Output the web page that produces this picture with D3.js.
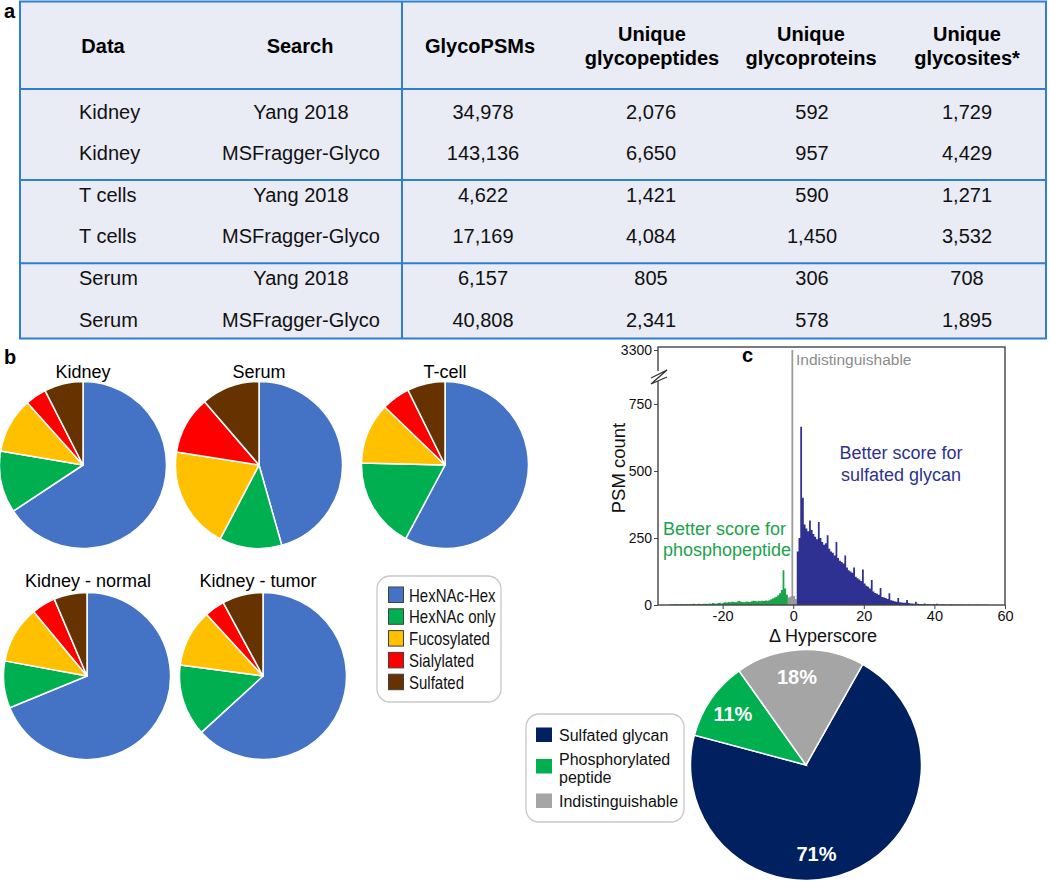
<!DOCTYPE html>
<html><head><meta charset="utf-8">
<script src="https://cdn.jsdelivr.net/npm/d3@7"></script>
<style>body{margin:0;background:#fff}svg{display:block;font-family:"Liberation Sans",Arial,sans-serif}</style>
</head><body><svg id="fig" width="1050" height="882"></svg>
<script>
// ---------------- DATA ----------------
// Panel a: table
const tableHeaders = [["Data"], ["Search"], ["GlycoPSMs"], ["Unique", "glycopeptides"], ["Unique", "glycoproteins"], ["Unique", "glycosites*"]];
const dataNames = ["Kidney", "Kidney", "T cells", "T cells", "Serum", "Serum"];
const searchNames = ["Yang 2018", "MSFragger-Glyco", "Yang 2018", "MSFragger-Glyco", "Yang 2018", "MSFragger-Glyco"];
const glycoPSMs = [34978, 143136, 4622, 17169, 6157, 40808];
const uniqueGlycopeptides = [2076, 6650, 1421, 4084, 805, 2341];
const uniqueGlycoproteins = [592, 957, 590, 1450, 306, 578];
const uniqueGlycosites = [1729, 4429, 1271, 3532, 708, 1895];

// Panel b: glycan composition pies (percent)
const glycanClasses = ["HexNAc-Hex", "HexNAc only", "Fucosylated", "Sialylated", "Sulfated"];
const pieNames = ["Kidney", "Serum", "T-cell", "Kidney - normal", "Kidney - tumor"];
const kidneyValues = [65.7, 12.0, 10.7, 4.1, 7.5];
const serumValues = [45.6, 12.1, 19.8, 11.2, 11.3];
const tcellValues = [57.8, 17.6, 11.8, 5.5, 7.3];
const kidneyNormalValues = [68.8, 9.1, 11.1, 4.6, 6.4];
const kidneyTumorValues = [63.2, 13.9, 11.1, 3.9, 7.9];

// Panel c: histogram of delta hyperscore (bin width 0.5)
const binWidth = 0.5;
const phosphoStart = -35.0;
const phosphoCounts = [2,3,2,4,3,2,4,3,3,4, 3,4,3,5,4,3,5,4,4,5, 5,4,6,5,7,6,5,7,8,6,
  8,10,9,11,10,12,11,10,13,16, 12,11,10,13,12,11,14,16,15,13, 15,14,16,15,17,16,
  18,21,24,28, 31,36,44,56, 130,62,38];
const indistStart = -1.5;
const indistCounts = [28, 32, 3300, 34, 22];
const sulfatedStart = 1.0;
const sulfatedCounts = [200,250,665,400,300,285,275,315,280,265, 255,245,310,250,235,225,230,260,210,200,
  195,185,235,175,165,160,155,185,140,130, 125,120,140,105,100,95,90,132,80,72,
  68,62,93,50,45,42,38,63,30,28, 26,22,44,18,16,14,12,26,10,9,
  8,8,19,7,6,6,5,12,5,4, 4,3,6,3,3,3,2,4,2,5,
  2,2,3,2,2,1,2,3,2,1, 2,1,2,1,2,1,1,2,1,1, 1,1,2,1,1,1,1,1,1];
const xTicks = [-20, 0, 20, 40, 60];
const yTicks = [0, 250, 500, 750, 3300];

// Panel c: pie
const hitClasses = ["Sulfated glycan", "Phosphorylated peptide", "Indistinguishable"];
const hitValues = [71, 11, 18];

// ---------------- STYLE ----------------
const FONT = '"Liberation Sans", Arial, sans-serif';
const glycanColors = ["#4472C4", "#00B050", "#FFC000", "#FF0000", "#663300"];
const hitColors = ["#002060", "#00B050", "#A5A5A5"];
const tableLine = "#2E7ED3";
const tableFill = "#E9EBF5";

const svg = d3.select("#fig");
const fmt = d3.format(",");

// ---------------- PANEL A: TABLE ----------------
const tbl = { left: 20, right: 1046, top: 1.5, headBottom: 89, bottom: 338.5, vsep: 402 };
const colX = [79, 301, 483, 651, 812, 967];
const rowBase0 = 118.5, rowStep = 41.6;

svg.append("rect").attr("x", tbl.left).attr("y", tbl.top)
  .attr("width", tbl.right - tbl.left).attr("height", tbl.bottom - tbl.top)
  .attr("fill", tableFill).attr("stroke", tableLine).attr("stroke-width", 2);
const hLines = [tbl.headBottom, rowBase0 + rowStep * 1.5 - 0.9, rowBase0 + rowStep * 3.5 - 0.9];
hLines.forEach(y => svg.append("line").attr("x1", tbl.left).attr("x2", tbl.right)
  .attr("y1", y).attr("y2", y).attr("stroke", tableLine).attr("stroke-width", 2));
svg.append("line").attr("x1", tbl.vsep).attr("x2", tbl.vsep).attr("y1", tbl.top).attr("y2", tbl.bottom)
  .attr("stroke", tableLine).attr("stroke-width", 2);

const headX = [103, 300, 480, 652, 811, 967];
tableHeaders.forEach((lines, i) => {
  const t = svg.append("text").attr("x", headX[i]).attr("text-anchor", "middle")
    .attr("font-size", 20).attr("font-weight", "bold").attr("fill", "#000");
  if (lines.length === 1) t.attr("y", 53).text(lines[0]);
  else {
    t.append("tspan").attr("x", headX[i]).attr("y", 41).text(lines[0]);
    t.append("tspan").attr("x", headX[i]).attr("y", 65).text(lines[1]);
  }
});
const cols = [dataNames, searchNames, glycoPSMs.map(fmt), uniqueGlycopeptides.map(fmt),
  uniqueGlycoproteins.map(fmt), uniqueGlycosites.map(fmt)];
cols.forEach((col, ci) => {
  col.forEach((v, ri) => {
    svg.append("text").attr("x", colX[ci]).attr("y", rowBase0 + ri * rowStep)
      .attr("text-anchor", ci === 0 ? "start" : "middle").attr("font-size", 20).attr("fill", "#111").text(v);
  });
});
svg.append("text").attr("x", 4).attr("y", 18).attr("font-size", 20).attr("font-weight", "bold").text("a");

// ---------------- PANEL B: PIES ----------------
svg.append("text").attr("x", 4).attr("y", 364).attr("font-size", 20).attr("font-weight", "bold").text("b");
const pieSets = [kidneyValues, serumValues, tcellValues, kidneyNormalValues, kidneyTumorValues];
const pieLayout = [
  { cx: 83, cy: 465, tx: 83, ty: 378 },
  { cx: 259, cy: 465, tx: 259, ty: 378 },
  { cx: 445, cy: 465, tx: 445, ty: 378 },
  { cx: 87, cy: 676, tx: 88, ty: 587 },
  { cx: 263, cy: 676, tx: 258, ty: 587 }
];
const pieR = 83.5;
const pieGen = d3.pie().sort(null).value(d => d);
const arcB = d3.arc().innerRadius(0).outerRadius(pieR);
pieSets.forEach((vals, i) => {
  const L = pieLayout[i];
  const g = svg.append("g").attr("transform", `translate(${L.cx},${L.cy})`);
  g.selectAll("path").data(pieGen(vals)).join("path")
    .attr("d", arcB).attr("fill", (d, j) => glycanColors[j])
    .attr("stroke", "#fff").attr("stroke-width", 1.5).attr("stroke-linejoin", "round");
  svg.append("text").attr("x", L.tx).attr("y", L.ty).attr("text-anchor", "middle")
    .attr("font-size", 18).attr("fill", "#000").text(pieNames[i]);
});
// legend b
const lgB = svg.append("g");
lgB.append("rect").attr("x", 377).attr("y", 576).attr("width", 124).attr("height", 126)
  .attr("rx", 13).attr("fill", "#fff").attr("stroke", "#c8c8c8").attr("stroke-width", 1.3);
glycanClasses.forEach((c, i) => {
  const y0 = 587 + i * 21.8;
  lgB.append("rect").attr("x", 388.5).attr("y", y0).attr("width", 15).attr("height", 15.5)
    .attr("fill", glycanColors[i]).attr("stroke", "#404040").attr("stroke-width", 1);
  lgB.append("text").attr("transform", `translate(409,${y0 + 14.5}) scale(1,1.18)`)
    .attr("font-size", 15).attr("fill", "#111").text(c);
});

// ---------------- PANEL C: HISTOGRAM ----------------
svg.append("text").attr("x", 742).attr("y", 362).attr("font-size", 20).attr("font-weight", "bold").text("c");
const frame = { left: 658, right: 1005, top: 347, bottom: 605 };
const x = d3.scaleLinear().domain([-38.3, 60]).range([frame.left, frame.right]);
const y = d3.scaleLinear().domain([0, 750, 3300]).range([frame.bottom, 404, 350]);

function stepPoints(start, counts) {
  const pts = counts.map((c, i) => ({ v: start + i * binWidth, c }));
  pts.push({ v: start + counts.length * binWidth, c: counts[counts.length - 1] });
  return pts;
}
const area = d3.area().curve(d3.curveStepAfter)
  .x(d => x(d.v)).y0(y(0)).y1(d => y(d.c));
const hist = svg.append("g");
hist.append("path").attr("d", area(stepPoints(phosphoStart, phosphoCounts))).attr("fill", "#1BA34B");
hist.append("path").attr("d", area(stepPoints(indistStart, indistCounts))).attr("fill", "#9a9a9a");
hist.append("path").attr("d", area(stepPoints(sulfatedStart, sulfatedCounts))).attr("fill", "#2E3192");

svg.append("rect").attr("x", frame.left).attr("y", frame.top).attr("width", frame.right - frame.left)
  .attr("height", frame.bottom - frame.top).attr("fill", "none").attr("stroke", "#444").attr("stroke-width", 1.4);

// x axis
const xAxis = svg.append("g").attr("transform", `translate(0,${frame.bottom})`)
  .call(d3.axisBottom(x).tickValues(xTicks).tickSize(4).tickPadding(2).tickFormat(d => String(d)));
xAxis.select(".domain").remove();
xAxis.selectAll("line").attr("stroke", "#444");
xAxis.selectAll("text").attr("font-size", 14.5).attr("font-family", FONT).attr("fill", "#111");
// y axis
const yAxis = svg.append("g").attr("transform", `translate(${frame.left},0)`)
  .call(d3.axisLeft(y).tickValues(yTicks).tickSize(4).tickPadding(2).tickFormat(d => String(d)));
yAxis.select(".domain").remove();
yAxis.selectAll("line").attr("stroke", "#444");
yAxis.selectAll("text").attr("font-size", 14).attr("font-family", FONT).attr("fill", "#111");
// axis break marker
svg.append("rect").attr("x", frame.left - 2).attr("y", 371).attr("width", 4).attr("height", 10).attr("fill", "#fff");
svg.append("path").attr("d", "M651,378 L667,370 L651,384 L667,377").attr("fill", "none")
  .attr("stroke", "#333").attr("stroke-width", 1.3);

svg.append("text").attr("transform", `translate(625,468) rotate(-90)`).attr("text-anchor", "middle")
  .attr("font-size", 18.5).attr("fill", "#111").text("PSM count");
svg.append("text").attr("x", 823).attr("y", 642).attr("text-anchor", "middle")
  .attr("font-size", 18).attr("fill", "#111").text("Δ Hyperscore");
svg.append("text").attr("x", 796).attr("y", 365).attr("font-size", 15.5).attr("fill", "#8c8c8c").text("Indistinguishable");
const tb = svg.append("text").attr("text-anchor", "middle").attr("font-size", 18).attr("fill", "#2E3192");
tb.append("tspan").attr("x", 901).attr("y", 459).text("Better score for");
tb.append("tspan").attr("x", 901).attr("y", 481).text("sulfated glycan");
const tg = svg.append("text").attr("font-size", 18).attr("fill", "#1BA34B");
tg.append("tspan").attr("x", 663).attr("y", 535).text("Better score for");
tg.append("tspan").attr("x", 663).attr("y", 556).text("phosphopeptide");

// ---------------- PANEL C: PIE ----------------
const pcR = 115.5;
const pc = { cx: 806, cy: 765 };
const startA = 29.4 * Math.PI / 180;
const pieC = d3.pie().sort(null).value(d => d).startAngle(startA).endAngle(startA + 2 * Math.PI);
const arcC = d3.arc().innerRadius(0).outerRadius(pcR);
const labelR = 89;
const labelAngleShift = [0.28, 0, -0.05];
const gC = svg.append("g").attr("transform", `translate(${pc.cx},${pc.cy})`);
const slicesC = pieC(hitValues);
gC.selectAll("path").data(slicesC).join("path").attr("d", arcC)
  .attr("fill", (d, i) => hitColors[i]).attr("stroke", "#fff").attr("stroke-width", 1.5);
gC.selectAll("text").data(slicesC).join("text")
  .attr("transform", (d, i) => {
    const a = (d.startAngle + d.endAngle) / 2 + labelAngleShift[i];
    return `translate(${labelR * Math.sin(a)},${-labelR * Math.cos(a)})`;
  })
  .attr("text-anchor", "middle").attr("dy", "0.36em").attr("font-size", 20).attr("font-weight", "bold")
  .attr("fill", "#fff").text(d => d.data + "%");

// legend c
const lgC = svg.append("g");
lgC.append("rect").attr("x", 526).attr("y", 714).attr("width", 158).attr("height", 108)
  .attr("rx", 13).attr("fill", "#fff").attr("stroke", "#c8c8c8").attr("stroke-width", 1.3);
const lgCRows = [
  { sq: 727.5, lines: ["Sulfated glycan"], base: [740.5] },
  { sq: 759, lines: ["Phosphorylated", "peptide"], base: [764.5, 782.5] },
  { sq: 793.5, lines: ["Indistinguishable"], base: [807] }
];
hitClasses.forEach((c, i) => {
  const R = lgCRows[i];
  lgC.append("rect").attr("x", 536).attr("y", R.sq).attr("width", 16).attr("height", 14.5).attr("fill", hitColors[i]);
  R.lines.forEach((ln, k) => lgC.append("text").attr("x", 559).attr("y", R.base[k])
    .attr("font-size", 16).attr("fill", "#111").text(ln));
});
</script></body></html>
